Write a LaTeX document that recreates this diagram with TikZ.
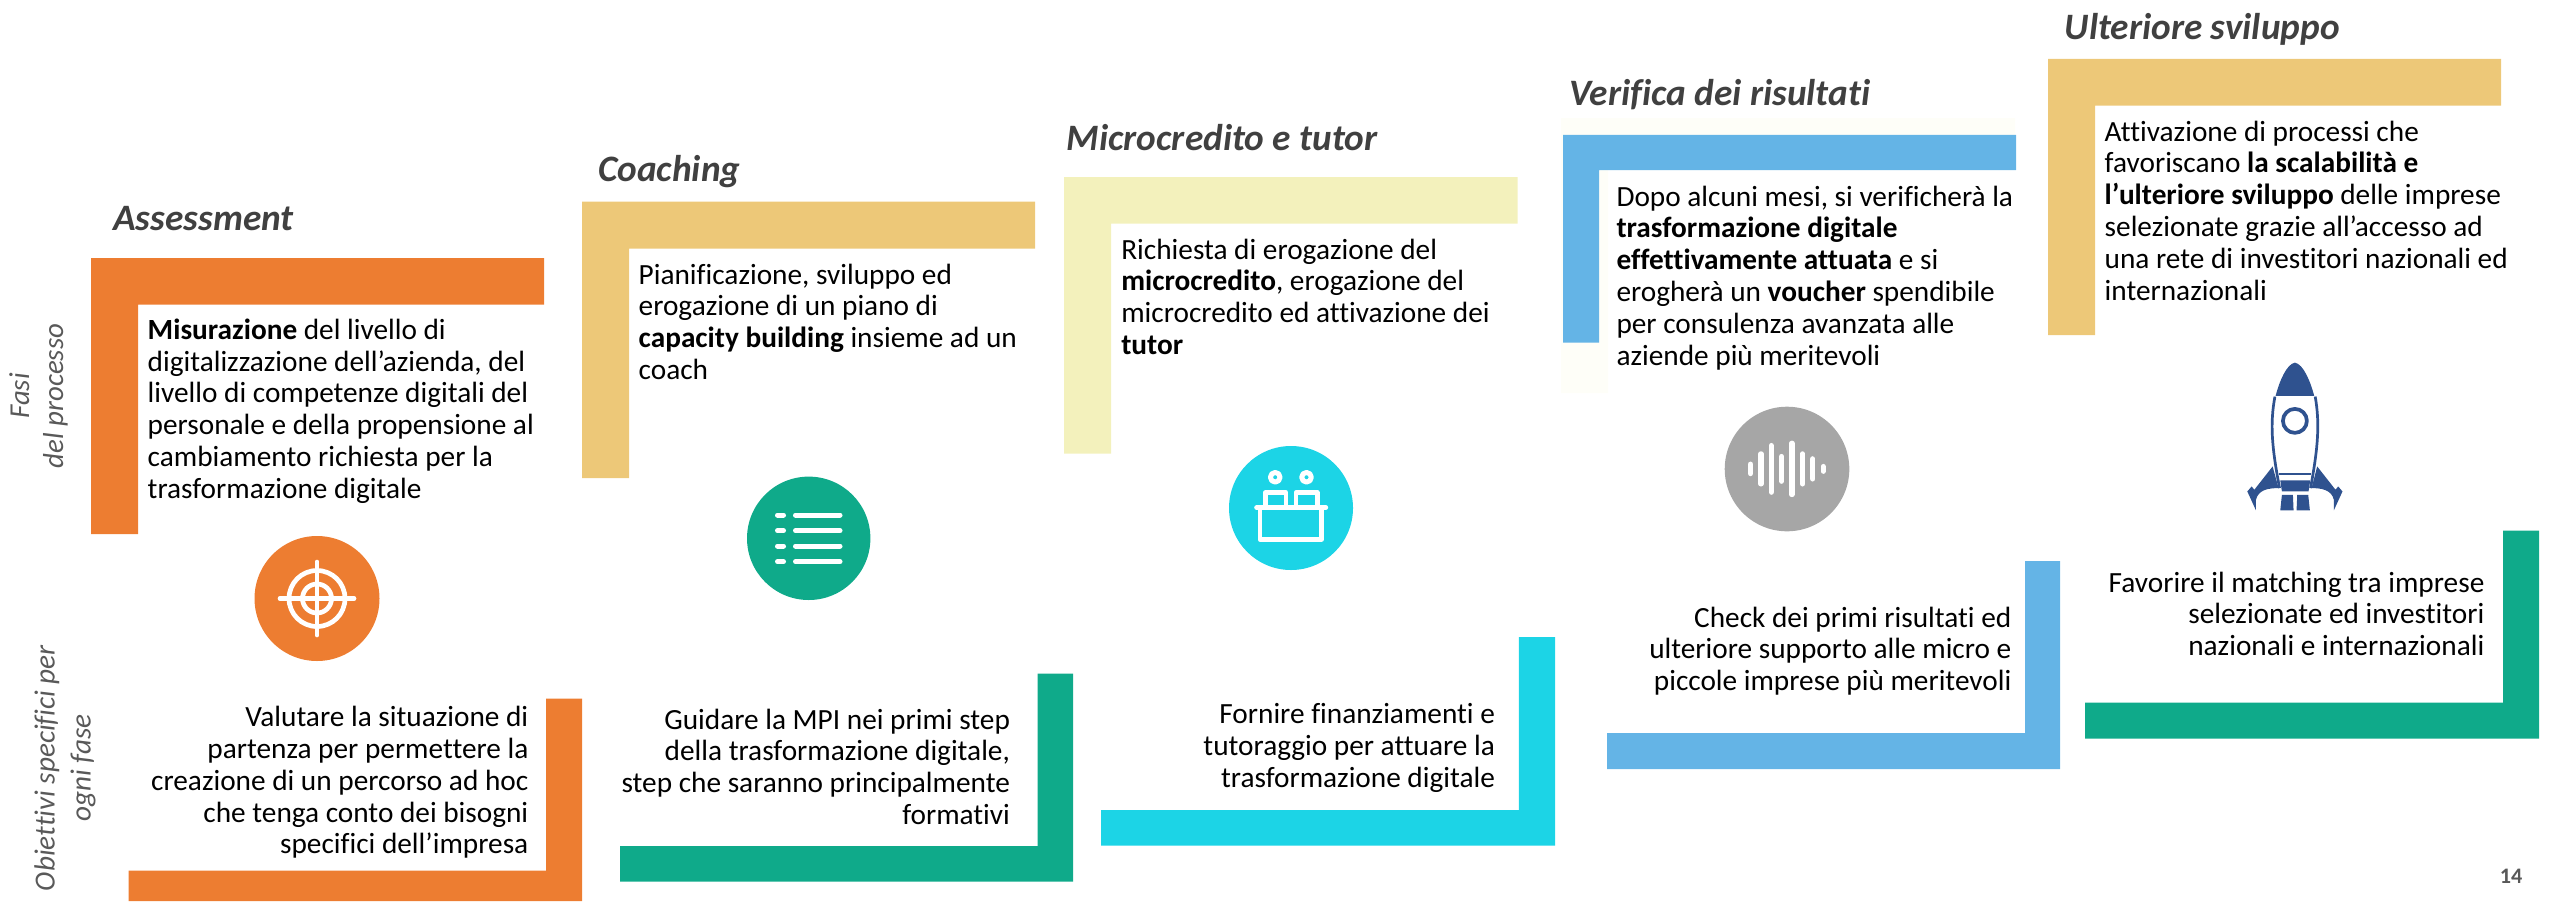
\documentclass[tikz,border=0pt]{standalone}
\usepackage{fontspec}
\setmainfont{Carlito}[Ligatures=NoCommon]
\definecolor{arancio}{HTML}{ED7D31}
\definecolor{sabbia}{HTML}{EDC878}
\definecolor{paglia}{HTML}{F3F1BC}
\definecolor{verde}{HTML}{0FAA8A}
\definecolor{ciano}{HTML}{1CD4E6}
\definecolor{azzurro}{HTML}{64B4E6}
\definecolor{grigio}{HTML}{A6A6A6}
\definecolor{razzo}{HTML}{2F528F}
\definecolor{titolo}{HTML}{404040}
\definecolor{laterale}{HTML}{595959}
\definecolor{velo}{HTML}{FEFEF8}
\tikzset{
  fase/.style={anchor=base west,inner sep=0pt,font=\fontsize{10.6}{12}\selectfont\bfseries\itshape,text=titolo},
  corpo/.style={anchor=north west,inner sep=0pt,align=left,font=\fontsize{8.33}{9.05}\selectfont},
  meta/.style={anchor=north east,inner sep=0pt,align=right,font=\fontsize{8.33}{9.05}\selectfont},
  lato/.style={inner sep=0pt,align=center,rotate=90,text=laterale,font=\fontsize{8.3}{10.2}\selectfont\itshape},
  griglia/.style={x=.00333cm,y=-.00333cm},
  segno/.style={white,line width=.047cm,line cap=round}
}
\begin{document}
\begin{tikzpicture}[x=.01cm,y=-.01cm,line join=round]
\useasboundingbox (0,0) rectangle (2549,903);
% pale shape behind the blue corner
\fill[velo] (1561,118)--(2015,118)--(2015,170)--(1608,170)--(1608,393)--(1561,393)--cycle;
% upper corners
\foreach \col/\xa/\xb/\xc/\ya/\yb/\yc in {arancio/91/138/544/258/304.5/534,sabbia/582/629/1035/201.5/248.5/478,paglia/1064/1111/1517.5/177/223.5/453.5,azzurro/1563/1599/2016/134.8/170/342.7,sabbia/2048/2095/2501/58.8/105.5/335}
  \fill[\col] (\xa,\ya)--(\xc,\ya)--(\xc,\yb)--(\xb,\yb)--(\xb,\yc)--(\xa,\yc)--cycle;
% lower corners
\foreach \col/\xa/\xb/\xc/\ya/\yb/\yc in {arancio/128.5/546/582/698.7/870.6/901,verde/620/1037.5/1073/673.5/846/881.5,ciano/1101/1518.8/1555/637/810/845.5,azzurro/1607/2025/2060/561/733/769,verde/2085/2503/2539/530.5/702.7/738.5}
  \fill[\col] (\xc,\ya)--(\xc,\yc)--(\xa,\yc)--(\xa,\yb)--(\xb,\yb)--(\xb,\ya)--cycle;
% titles
\node[fase] (assessment) at (112.7,230.7) {Assessment};
\node[fase] (coaching) at (597.5,181) {Coaching};
\node[fase] (microcredito) at (1066,150) {Microcredito e tutor};
\node[fase] (verifica) at (1569,105) {Verifica dei risultati};
\node[fase] (sviluppo) at (2064,39) {Ulteriore sviluppo};
% phase texts
\node[corpo] (testoA) at (147,318) {\textbf{Misurazione} del livello di\\digitalizzazione dell’azienda, del\\livello di competenze digitali del\\personale e della propensione al\\cambiamento richiesta per la\\trasformazione digitale};
\node[corpo] (testoB) at (638,263) {Pianificazione, sviluppo ed\\erogazione di un piano di\\\textbf{capacity building} insieme ad un\\coach};
\node[corpo] (testoC) at (1120.6,238) {Richiesta di erogazione del\\\textbf{microcredito}, erogazione del\\microcredito ed attivazione dei\\\textbf{tutor}};
\node[corpo] (testoD) at (1615.8,185) {Dopo alcuni mesi, si verificherà la\\\textbf{trasformazione digitale}\\\textbf{effettivamente attuata} e si\\erogherà un \textbf{voucher} spendibile\\per consulenza avanzata alle\\aziende più meritevoli};
\node[corpo] (testoE) at (2104,120) {Attivazione di processi che\\favoriscano \textbf{la scalabilità e}\\\textbf{l’ulteriore sviluppo} delle imprese\\selezionate grazie all’accesso ad\\una rete di investitori nazionali ed\\internazionali};
% goals
\node[meta] (metaA) at (529,705.5) {Valutare la situazione di\\partenza per permettere la\\creazione di un percorso ad hoc\\che tenga conto dei bisogni\\specifici dell’impresa};
\node[meta] (metaB) at (1010.6,708) {Guidare la MPI nei primi step\\della trasformazione digitale,\\step che saranno principalmente\\formativi};
\node[meta] (metaC) at (1495.6,703) {Fornire finanziamenti e\\tutoraggio per attuare la\\trasformazione digitale};
\node[meta] (metaD) at (2012,606) {Check dei primi risultati ed\\ulteriore supporto alle micro e\\piccole imprese più meritevoli};
\node[meta] (metaE) at (2485,571) {Favorire il matching tra imprese\\selezionate ed investitori\\nazionali e internazionali};
% side labels
\node[lato,font=\fontsize{8.2}{9.7}\selectfont\itshape] (fasi) at (38.5,396) {Fasi\\del processo};
\node[lato] (obiettivi) at (65,768) {Obiettivi specifici per\\ogni fase};
\node[anchor=base east,inner sep=0pt,text=laterale,font=\fontsize{6.3}{7}\selectfont\bfseries] (pagina) at (2523,883) {14};
% target
\fill[arancio] (317,598.5) circle (62.5);
\draw[segno] (317,598.5) circle (28) (317,598.5) circle (14.5);
\draw[segno] (280,598.5)--(354,598.5) (317,562)--(317,635);
% list
\fill[verde] (808.7,538.3) circle (61.7);
\foreach \y in {515,530.7,546,561.7}{
  \draw[segno,line width=.05cm] (777.5,\y)--(783.5,\y);
  \draw[segno,line width=.05cm] (795.5,\y)--(840,\y);
}
% desk
\fill[ciano] (1291,508) circle (62);
\begin{scope}[shift={(1200,430)},griglia]
  \draw[white,line width=.047cm,line join=round] (180,232) rectangle (366,328) (196,232)--(196,188)--(258,188)--(258,232) (288,232)--(288,188)--(352,188)--(352,232);
  \draw[segno] (170,233)--(378,233);
  \draw[white,line width=.05cm] (226,142) circle (14.5) (320,142) circle (14.5);
\end{scope}
% sound wave
\fill[grigio] (1787,469) circle (62.3);
\begin{scope}[shift={(1700,390)},griglia]
  \foreach \x/\h in {152/14,183/45,214/70,245/37,276/77,308/45,339/30,370/7}
    \draw[segno,line width=.053cm] (\x,237-\h)--(\x,237+\h);
\end{scope}
% rocket
\begin{scope}[shift={(2220,340)},griglia]
  \fill[razzo] (225,68) .. controls (200,72) and (178,125) .. (167,168)--(283,168) .. controls (272,125) and (250,72) .. (225,68)--cycle;
  \draw[razzo,line width=.027cm] (165,170) .. controls (150,250) and (155,320) .. (179,445);
  \draw[razzo,line width=.027cm] (286,170) .. controls (300,250) and (295,320) .. (272,445);
  \draw[razzo,line width=.037cm] (225,243) circle (36);
  \draw[razzo,line width=.018cm] (178,403)--(272,403);
  \fill[razzo] (181,422)--(271,422)--(266,455)--(186,455)--cycle;
  \fill[razzo] (158,380)--(176,445) .. controls (145,445) and (115,450) .. (108,480)--(108,512)--(82,455)--(95,440)--(103,450)--cycle;
  \fill[razzo] (292,380)--(275,445) .. controls (305,445) and (335,450) .. (342,480)--(342,512)--(368,455)--(355,440)--(347,450)--cycle;
  \fill[razzo] (186,465)--(219,465)--(221,512)--(181,512)--cycle;
  \fill[razzo] (232,465)--(265,465)--(270,512)--(230,512)--cycle;
\end{scope}
\end{tikzpicture}
\end{document}
